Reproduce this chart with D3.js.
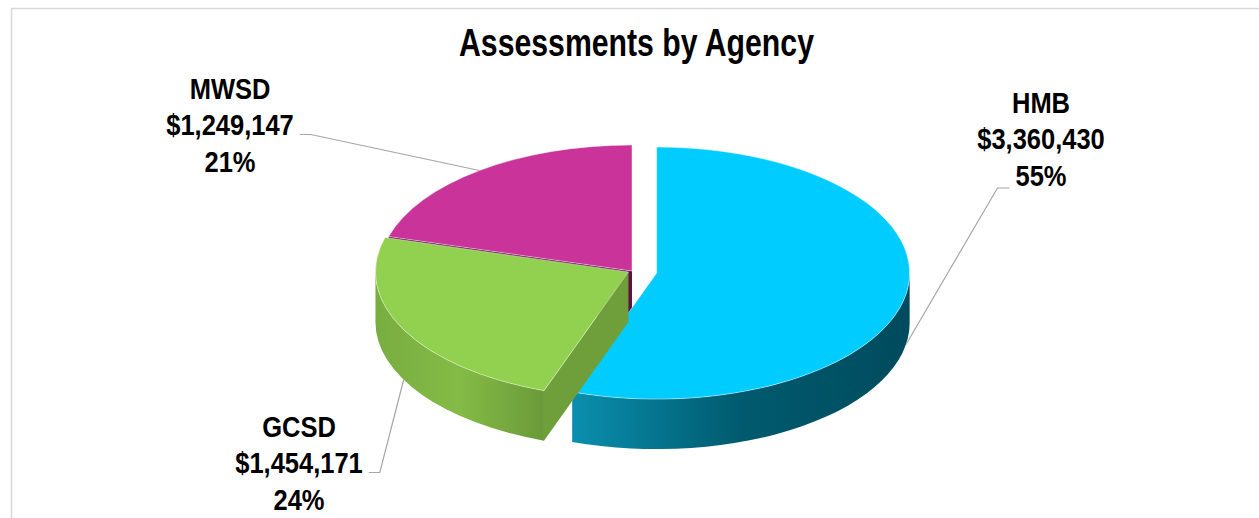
<!DOCTYPE html>
<html>
<head>
<meta charset="utf-8">
<script src="https://cdn.jsdelivr.net/npm/d3@7"></script>
<style>
  html, body { margin: 0; padding: 0; background: #fff; }
  text { font-family: "Liberation Sans", Arial, sans-serif; font-weight: bold; fill: #000; }
</style>
</head>
<body>
<svg id="chart"></svg>
<script>
// values
const agencies = ["HMB", "GCSD", "MWSD"];
const assessments = [3360430, 1454171, 1249147];

// look of each slice: top colour, side gradient, radial wall
const topColors = ["#00ccff", "#92d050", "#c9339a"];
const sideStops = [
    ["#0a8fae", "#005a6e", "#004b5d"],
    ["#78ad40", "#84bb46", "#6a9a38"],
    ["#8a2567", "#6a1a4f", "#5c1242"]
];
const wallColors = ["#006b82", "#6f9f3b", "#5c1242"];
const explodeBy = [25, 4, 0];

// label boxes (centre x, first baseline) - layout only
const labelPos = [
    { x: 1041, y: 113 },
    { x: 299, y: 437 },
    { x: 230, y: 99 }
];

const W = 1259, H = 518;
const cx = 632, cy = 271, rx = 253, ry = 126, depth = 50;
const lineH = 36.5;
const narrow = 0.85; // no Arial Narrow here, squeeze Liberation Sans instead

const svg = d3.select("#chart").attr("width", W).attr("height", H);
const defs = svg.append("defs");

// frame
svg.append("rect")
    .attr("x", 11.5).attr("y", 8.5)
    .attr("width", W + 20).attr("height", H + 20)
    .attr("fill", "none")
    .attr("stroke", "#d9d9d9")
    .attr("stroke-width", 1.5);

svg.append("g")
    .attr("transform", "translate(636.5,56) scale(0.775,1)")
    .append("text")
    .attr("text-anchor", "middle")
    .style("font-size", "39px")
    .text("Assessments by Agency");

const total = d3.sum(assessments);
const fmtMoney = d3.format("$,");
const fmtPct = d3.format(".0%");

const arcs = d3.pie().sort(null).value(d => d)(assessments);

// point on the ellipse, angle clockwise from 12 o'clock
const pt = (c, a, dz = 0) => [c[0] + rx * Math.sin(a), c[1] - ry * Math.cos(a) + dz];
const isFront = a => Math.cos(a) < 0;

arcs.forEach((d, i) => {
    d.mid = (d.startAngle + d.endAngle) / 2;
    const e = explodeBy[i];
    d.c = [cx + e * Math.sin(d.mid), cy - e * Math.cos(d.mid) * ry / rx];

    const g = defs.append("linearGradient")
        .attr("id", "side" + i)
        .attr("x1", 0).attr("x2", 1).attr("y1", 0).attr("y2", 0);
    sideStops[i].forEach((s, k) => {
        g.append("stop").attr("offset", k / (sideStops[i].length - 1)).attr("stop-color", s);
    });
});

const topPath = d => {
    const p0 = pt(d.c, d.startAngle), p1 = pt(d.c, d.endAngle);
    const large = d.endAngle - d.startAngle > Math.PI ? 1 : 0;
    return `M${d.c}L${p0}A${rx},${ry} 0 ${large} 1 ${p1}Z`;
};

const wallPath = (d, a) => {
    const p = pt(d.c, a);
    return `M${d.c}L${p}L${p[0]},${p[1] + depth}L${d.c[0]},${d.c[1] + depth}Z`;
};

// outer side, only the part facing us (90deg..270deg)
const sidePath = d => {
    const b0 = Math.max(d.startAngle, Math.PI / 2);
    const b1 = Math.min(d.endAngle, Math.PI * 1.5);
    if (b1 <= b0) return null;
    const p0 = pt(d.c, b0), p1 = pt(d.c, b1);
    return `M${p0}A${rx},${ry} 0 0 1 ${p1}L${p1[0]},${p1[1] + depth}` +
        `A${rx},${ry} 0 0 0 ${p0[0]},${p0[1] + depth}Z`;
};

// back slices first
const order = arcs.map((d, i) => i).sort((a, b) => -Math.cos(arcs[a].mid) + Math.cos(arcs[b].mid));

const pie = svg.append("g");
order.forEach(i => {
    const d = arcs[i];
    const g = pie.append("g");

    // radial walls that face the viewer
    if (Math.cos(d.startAngle - Math.PI / 2) < 0) {
        g.append("path").attr("d", wallPath(d, d.startAngle)).attr("fill", wallColors[i]);
    }
    if (Math.cos(d.endAngle + Math.PI / 2) < 0) {
        g.append("path").attr("d", wallPath(d, d.endAngle)).attr("fill", wallColors[i]);
    }
    const sp = sidePath(d);
    if (sp) {
        g.append("path").attr("d", sp).attr("fill", `url(#side${i})`);
    }
    g.append("path")
        .attr("d", topPath(d))
        .attr("fill", topColors[i])
        .attr("stroke", "rgba(255,255,255,0.55)")
        .attr("stroke-width", 0.8);
});

// labels + leader lines
arcs.forEach((d, i) => {
    const L = labelPos[i];
    const lines = [agencies[i], fmtMoney(assessments[i]), fmtPct(assessments[i] / total)];
    const t = svg.append("g")
        .attr("transform", `translate(${L.x},${L.y}) scale(${narrow},1)`)
        .append("text")
        .attr("text-anchor", "middle")
        .style("font-size", "30px");
    const spans = lines.map((s, k) =>
        t.append("tspan").attr("x", 0).attr("y", k * lineH).text(s));

    const tip = pt(d.c, d.mid, isFront(d.mid) ? depth : 0);
    let y0, x0, x1;
    if (tip[0] < L.x) {
        // HMB leader hangs off the percent line, on its left
        const w = spans[2].node().getComputedTextLength() * narrow;
        y0 = L.y + 2 * lineH + 2;
        x0 = L.x - w / 2 - 6;
        x1 = x0 - 12;
    } else {
        const w = spans[1].node().getComputedTextLength() * narrow;
        y0 = L.y + lineH - 1;
        x0 = L.x + w / 2 + 6;
        x1 = x0 + 11;
    }
    svg.append("path")
        .attr("d", `M${x0},${y0}L${x1},${y0}L${tip}`)
        .attr("fill", "none")
        .attr("stroke", "#a6a6a6")
        .attr("stroke-width", 1.2);
});
</script>
</body>
</html>
